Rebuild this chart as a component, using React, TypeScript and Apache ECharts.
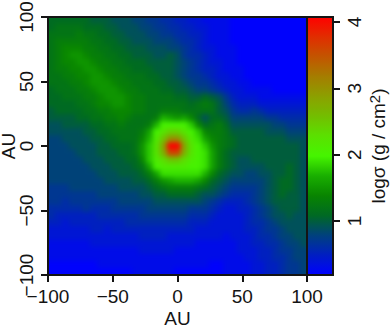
import React, { useEffect, useRef } from "react";
import * as echarts from "echarts";

const axisTicks = [-100, -50, 0, 50, 100];
const barTicks = [1, 2, 3, 4];
const barMin = 0.185;
const barMax = 4.075;
const sigmaColors = [
  "rgb(0,0,255)", "rgb(0,30,195)", "rgb(0,65,125)", "rgb(0,105,35)", "rgb(8,132,0)",
  "rgb(25,175,0)", "rgb(70,245,0)", "rgb(90,225,0)", "rgb(115,190,0)", "rgb(140,160,0)",
  "rgb(165,125,0)", "rgb(195,85,0)", "rgb(225,45,0)", "rgb(255,0,0)",
];
const logSigma: number[][] = [
  [1.1,1.1,1.1,1.1,1.1, 1.1,1.0,1.0,1.0,.9, .9,.9,.8,.8,.7, .7,.6,.6,.5,.5, .4,.4,.3,.3,.3, .3,.2,.2,.2,.2, .2,.2,.2,.2,.2,.2,.2],
  [1.1,1.2,1.2,1.2,1.2, 1.1,1.1,1.1,1.0,1.0, .9,.9,.9,.8,.8, .7,.7,.6,.6,.5, .5,.4,.4,.3,.3, .3,.2,.2,.2,.2, .2,.2,.2,.2,.2,.2,.2],
  [1.2,1.2,1.2,1.2,1.3, 1.2,1.2,1.1,1.1,1.0, 1.0,.9,.9,.9,.8, .8,.7,.7,.6,.6, .5,.5,.4,.3,.3, .3,.2,.2,.2,.2, .2,.2,.2,.2,.2,.2,.2],
  [1.2,1.3,1.3,1.3,1.3, 1.3,1.2,1.2,1.1,1.1, 1.0,1.0,.9,.9,.9, .8,.8,.8,.7,.6, .6,.5,.4,.3,.3, .3,.2,.2,.2,.2, .2,.2,.2,.2,.2,.2,.2],
  [1.2,1.3,1.4,1.4,1.4, 1.3,1.3,1.2,1.2,1.1, 1.1,1.0,1.0,1.0,.9, .9,.9,.8,.8,.7, .6,.5,.4,.4,.3, .3,.3,.2,.2,.2, .2,.2,.2,.2,.2,.2,.2],
  [1.2,1.3,1.4,1.5,1.5, 1.4,1.3,1.3,1.2,1.2, 1.1,1.1,1.0,1.0,1.0, .9,.9,1.0,.9,.7, .6,.6,.5,.4,.3, .3,.3,.2,.2,.2, .2,.2,.2,.2,.2,.2,.2],
  [1.2,1.3,1.4,1.4,1.5, 1.5,1.4,1.3,1.3,1.2, 1.2,1.1,1.1,1.1,1.0, 1.0,1.0,1.0,.9,.8, .7,.6,.5,.4,.4, .3,.3,.2,.2,.2, .2,.2,.2,.2,.2,.2,.2],
  [1.2,1.3,1.3,1.4,1.4, 1.5,1.5,1.4,1.3,1.3, 1.2,1.2,1.1,1.1,1.1, 1.0,1.0,1.0,.9,.8, .7,.6,.5,.5,.4, .3,.3,.3,.2,.2, .2,.2,.2,.2,.2,.2,.2],
  [1.2,1.2,1.3,1.3,1.4, 1.4,1.5,1.5,1.4,1.3, 1.3,1.2,1.2,1.2,1.1, 1.1,1.0,1.0,.9,.8, .7,.7,.6,.5,.4, .4,.3,.3,.2,.2, .2,.2,.2,.2,.2,.2,.2],
  [1.2,1.2,1.2,1.3,1.3, 1.4,1.5,1.5,1.5,1.4, 1.3,1.3,1.2,1.2,1.2, 1.1,1.1,1.0,1.0,.9, .8,.7,.7,.6,.5, .4,.4,.3,.3,.2, .2,.2,.2,.2,.2,.2,.2],
  [1.1,1.2,1.2,1.2,1.3, 1.3,1.4,1.5,1.5,1.5, 1.4,1.3,1.3,1.2,1.2, 1.2,1.1,1.1,1.0,1.0, .9,.8,.8,.7,.6, .5,.4,.4,.3,.3, .3,.3,.2,.2,.2,.2,.2],
  [1.1,1.1,1.2,1.2,1.2, 1.3,1.3,1.4,1.5,1.5, 1.5,1.4,1.3,1.3,1.2, 1.2,1.2,1.2,1.1,1.1, 1.0,1.0,1.1,1.0,.9, .7,.5,.4,.4,.4, .3,.3,.3,.3,.3,.3,.3],
  [1.1,1.1,1.1,1.1,1.2, 1.2,1.3,1.4,1.4,1.5, 1.5,1.4,1.3,1.3,1.2, 1.2,1.2,1.2,1.2,1.2, 1.1,1.2,1.3,1.2,1.0, .8,.6,.5,.5,.5, .4,.4,.4,.4,.4,.4,.4],
  [1.0,1.1,1.1,1.1,1.1, 1.2,1.2,1.3,1.3,1.4, 1.4,1.4,1.3,1.3,1.2, 1.2,1.3,1.3,1.3,1.2, 1.2,1.2,1.2,1.2,1.0, .9,.7,.6,.6,.7, .6,.5,.5,.5,.5,.5,.5],
  [1.0,1.0,1.0,1.0,1.1, 1.1,1.2,1.2,1.3,1.3, 1.4,1.3,1.2,1.2,1.2, 1.3,1.7,1.6,1.5,1.6, 1.4,1.1,.9,1.1,1.1, 1.0,.8,.8,.8,.8, .8,.7,.7,.6,.6,.6,.6],
  [.9,.9,1.0,1.0,1.0, 1.0,1.1,1.1,1.2,1.2, 1.3,1.2,1.2,1.2,1.3, 1.7,2.0,2.0,2.0,2.0, 1.8,1.4,1.1,1.2,1.3, 1.1,.9,.9,.9,.9, .9,.9,.8,.8,.7,.7,.7],
  [.9,.9,.9,.9,.9, 1.0,1.0,1.1,1.1,1.2, 1.2,1.2,1.2,1.3,1.6, 2.0,2.2,2.4,2.4,2.2, 2.0,1.8,1.4,1.3,1.3, 1.2,1.0,1.0,1.0,1.0, 1.0,.9,.9,.9,.8,.8,.8],
  [.8,.8,.9,.9,.9, .9,1.0,1.0,1.1,1.1, 1.2,1.2,1.2,1.4,1.7, 2.1,2.5,3.0,3.0,2.5, 2.1,1.9,1.6,1.4,1.3, 1.2,1.1,1.0,1.0,1.0, 1.0,1.0,1.0,1.0,.9,.9,.9],
  [.8,.8,.8,.9,.9, .9,.9,1.0,1.0,1.1, 1.1,1.1,1.2,1.5,1.8, 2.2,2.8,4.2,4.2,2.8, 2.2,2.0,1.8,1.5,1.3, 1.2,1.1,1.0,1.0,1.0, 1.0,1.0,1.0,1.0,1.0,1.0,.9],
  [.8,.8,.8,.8,.9, .9,.9,1.0,1.0,1.0, 1.1,1.1,1.2,1.5,1.8, 2.2,2.7,3.6,3.6,2.7, 2.2,2.0,1.9,1.6,1.3, 1.1,1.0,1.0,1.0,1.0, 1.0,1.0,1.0,1.0,1.0,1.0,.9],
  [.8,.8,.8,.8,.8, .9,.9,.9,1.0,1.0, 1.0,1.1,1.1,1.4,1.8, 2.1,2.3,2.5,2.5,2.3, 2.1,2.0,1.9,1.6,1.3, 1.1,1.0,.9,.9,1.0, 1.0,1.0,1.0,1.0,1.0,1.0,.9],
  [.8,.8,.8,.8,.8, .8,.9,.9,.9,1.0, 1.0,1.0,1.1,1.2,1.6, 2.0,2.1,2.1,2.1,2.1, 2.0,2.0,1.9,1.6,1.3, 1.1,1.0,.9,.9,.9, .9,1.0,1.0,1.0,1.1,1.0,.9],
  [.8,.8,.8,.8,.8, .8,.8,.9,.9,.9, 1.0,1.0,1.0,1.1,1.3, 1.6,1.9,1.9,1.9,1.9, 1.9,1.9,1.7,1.4,1.1, 1.0,.9,.9,.8,.8, .9,.9,1.0,1.0,1.1,1.0,.9],
  [.8,.8,.8,.8,.8, .8,.8,.8,.9,.9, .9,.9,1.0,1.0,1.1, 1.3,1.5,1.6,1.7,1.7, 1.7,1.6,1.4,1.1,1.0, .9,.8,.8,.8,.8, .8,.9,1.0,1.1,1.1,1.0,.9],
  [.7,.7,.7,.8,.8, .8,.8,.8,.8,.8, .9,.9,.9,.9,1.0, 1.1,1.2,1.3,1.3,1.3, 1.3,1.2,1.1,1.0,.9, .8,.7,.7,.7,.7, .8,.9,1.0,1.1,1.1,1.0,.9],
  [.7,.7,.7,.7,.7, .7,.7,.8,.8,.8, .8,.8,.8,.9,.9, 1.0,1.0,1.1,1.1,1.1, 1.1,1.0,.9,.9,.8, .7,.6,.6,.6,.7, .8,.9,1.0,1.1,1.0,1.0,.9],
  [.7,.7,.6,.7,.7, .7,.7,.7,.7,.7, .8,.8,.8,.8,.8, .9,.9,.9,.9,.9, .9,.9,.8,.7,.6, .5,.5,.5,.6,.7, .8,.9,1.0,1.0,1.0,1.0,.9],
  [.6,.6,.6,.6,.6, .7,.6,.6,.6,.7, .7,.7,.7,.7,.8, .8,.8,.8,.8,.8, .7,.7,.7,.6,.5, .4,.4,.5,.5,.6, .7,.8,.9,1.0,1.0,1.0,.9],
  [.6,.5,.5,.5,.5, .5,.5,.6,.6,.6, .6,.6,.6,.7,.7, .7,.7,.7,.7,.7, .6,.6,.6,.5,.4, .4,.4,.4,.5,.6, .7,.8,.9,.9,1.0,.9,.9],
  [.5,.5,.4,.5,.5, .5,.5,.5,.5,.5, .5,.6,.6,.6,.6, .6,.6,.6,.6,.6, .5,.5,.5,.4,.4, .4,.4,.4,.5,.6, .6,.7,.8,.9,.9,.9,.9],
  [.4,.4,.4,.4,.4, .4,.5,.5,.4,.5, .5,.5,.5,.5,.5, .5,.5,.5,.5,.5, .5,.4,.4,.4,.4, .4,.4,.4,.5,.5, .6,.7,.7,.8,.9,.9,.9],
  [.4,.4,.4,.4,.4, .4,.4,.4,.4,.4, .4,.4,.4,.5,.5, .5,.5,.4,.4,.4, .4,.4,.4,.4,.4, .3,.4,.4,.4,.5, .6,.6,.7,.8,.8,.9,.9],
  [.3,.3,.3,.3,.3, .3,.4,.4,.4,.4, .4,.4,.4,.4,.4, .4,.4,.4,.4,.4, .4,.3,.3,.3,.3, .3,.3,.4,.4,.5, .5,.6,.6,.7,.8,.8,.9],
  [.3,.3,.3,.3,.3, .3,.3,.3,.3,.3, .3,.3,.3,.4,.4, .4,.4,.4,.3,.3, .3,.3,.3,.3,.3, .3,.3,.4,.4,.4, .5,.5,.6,.7,.7,.8,.8],
  [.3,.3,.3,.3,.3, .3,.3,.3,.3,.3, .3,.3,.3,.3,.3, .3,.3,.3,.3,.3, .3,.3,.3,.3,.3, .3,.3,.3,.4,.4, .5,.5,.6,.6,.7,.8,.8],
  [.2,.2,.2,.2,.2, .2,.2,.3,.3,.3, .3,.3,.3,.3,.3, .3,.3,.3,.3,.3, .3,.3,.3,.2,.2, .3,.3,.3,.3,.4, .4,.5,.5,.6,.7,.7,.8],
  [.2,.2,.2,.2,.2, .2,.2,.2,.2,.2, .2,.2,.3,.3,.3, .3,.3,.3,.2,.2, .2,.2,.2,.2,.2, .3,.3,.3,.3,.4, .4,.5,.5,.6,.7,.7,.8],
];

const INK = "#141414";
const FONT = '"Liberation Sans", Arial, sans-serif';

// The edge rows and columns are repeated so the soft filter has something to
// read past the frame; what sticks out is clipped away.
function padded(rows: number[][]): number[][] {
  const wide = rows.map((r) => [r[0], ...r, r[r.length - 1]]);
  return [wide[0], ...wide, wide[wide.length - 1]];
}

function fmt(v: number): string {
  return String(v).replace("-", "\u2212");
}

export default function App() {
  const heatRef = useRef<HTMLDivElement>(null);
  const axesRef = useRef<HTMLDivElement>(null);

  useEffect(() => {
    document.body.style.margin = "0";
    const heat = echarts.init(heatRef.current!, null, { renderer: "svg" });
    const axes = echarts.init(axesRef.current!, null, { renderer: "svg" });

    const grid = padded(logSigma);
    const cells: number[][] = [];
    grid.forEach((row, y) => row.forEach((v, x) => cells.push([x, y, v])));

    heat.setOption({
      animation: false,
      grid: { left: 0, right: 0, top: 0, bottom: 0, outerBoundsMode: "none" },
      xAxis: { type: "category", data: grid[0].map((_, i) => i), show: false },
      yAxis: { type: "category", data: grid.map((_, i) => i), show: false, inverse: true },
      visualMap: {
        show: false, min: barMin, max: barMax, dimension: 2,
        inRange: { color: sigmaColors },
      },
      series: [{
        type: "heatmap", data: cells, progressive: 0,
        itemStyle: { borderWidth: 0 }, emphasis: { disabled: true },
      }],
    });

    const label = { color: INK, fontFamily: FONT, fontSize: 19 };
    const nameStyle = { ...label, lineHeight: 15 };
    const frame = {
      show: true, backgroundColor: "transparent", borderColor: INK, borderWidth: 2, z: 10,
      outerBoundsMode: "none", containLabel: false,
    };
    const line = { show: false, onZero: false };
    axes.setOption({
      animation: false,
      textStyle: { fontFamily: FONT },
      grid: [
        { ...frame, left: 48, top: 17, width: 259, height: 258 },
        { ...frame, left: 307, top: 17, width: 26, height: 258 },
      ],
      xAxis: [
        {
          gridIndex: 0, type: "value", min: -100, max: 100, interval: 50,
          name: "AU", nameLocation: "middle", nameGap: 36, nameMoveOverlap: false, nameTextStyle: nameStyle,
          splitLine: { show: false },
          axisLine: line,
          axisTick: { length: 7, lineStyle: { color: INK, width: 2 } },
          axisLabel: { ...label, margin: 12, formatter: fmt, customValues: axisTicks },
        },
        { gridIndex: 1, type: "value", min: 0, max: 1, show: false },
      ],
      yAxis: [
        {
          gridIndex: 0, type: "value", min: -100, max: 100, interval: 50,
          name: "AU", nameLocation: "middle", nameGap: 32, nameMoveOverlap: false, nameTextStyle: nameStyle,
          splitLine: { show: false },
          axisLine: line,
          axisTick: { length: 7, lineStyle: { color: INK, width: 2 } },
          axisLabel: { ...label, rotate: 90, margin: 12, formatter: fmt, customValues: axisTicks },
        },
        {
          gridIndex: 1, type: "value", position: "right", min: barMin, max: barMax,
          name: "{t|log\u03c3 (g / cm}{s|2}{t|)}", nameLocation: "middle", nameRotate: 90, nameGap: 34, nameMoveOverlap: false,
          nameTextStyle: {
            ...label,
            rich: {
              t: { ...label },
              s: { ...label, fontSize: 15, verticalAlign: "top", padding: [0, 0, 8, 0] },
            },
          },
          splitLine: { show: false },
          axisLine: line,
          axisTick: { length: 7, lineStyle: { color: INK, width: 2 }, customValues: barTicks },
          axisLabel: { ...label, rotate: 90, margin: 12, customValues: barTicks },
        },
      ],
      visualMap: {
        type: "continuous", min: barMin, max: barMax, calculable: false, hoverLink: false,
        left: 307, top: 17, itemWidth: 26, itemHeight: 258, padding: 0, text: ["", ""],
        showLabel: false, seriesIndex: [], z: 1,
        inRange: { color: sigmaColors },
      },
      series: [],
    });

    return () => { heat.dispose(); axes.dispose(); };
  }, []);

  return (
    <div style={{ position: "fixed", left: 0, top: 0, width: 390, height: 326, background: "#fff", overflow: "hidden" }}>
      <div style={{ position: "absolute", left: 48, top: 17, width: 259, height: 258, overflow: "hidden", background: "#003080" }}>
        <div ref={heatRef} style={{ position: "absolute", left: -7, top: -7, width: 273, height: 272, filter: "blur(2.6px)" }} />
      </div>
      <div ref={axesRef} style={{ position: "absolute", left: 0, top: 0, width: 390, height: 326 }} />
    </div>
  );
}
